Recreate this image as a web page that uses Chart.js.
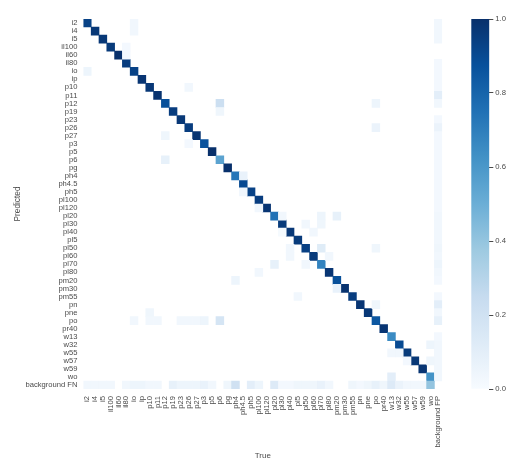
<!DOCTYPE html>
<html>
<head>
<meta charset="utf-8">
<script src="https://cdn.jsdelivr.net/npm/chart.js@4"></script>
<style>
  body { margin: 0; background: #fff; }
  #wrap { position: relative; width: 528px; height: 468px; overflow: hidden; }
  canvas { position: absolute; top: 0; }
</style>
</head>
<body>
<div id="wrap">
  <canvas id="matrix" width="528" height="468" style="left:0"></canvas>
  <canvas id="colorbar" width="68" height="468" style="left:460px"></canvas>
</div>
<script>
const classes = ["i2","i4","i5","il100","il60","il80","io","ip","p10","p11","p12","p19","p23","p26","p27","p3","p5","p6","pg","ph4","ph4.5","ph5","pl100","pl120","pl20","pl30","pl40","pl5","pl50","pl60","pl70","pl80","pm20","pm30","pm55","pn","pne","po","pr40","w13","w32","w55","w57","w59","wo"];
const trueLabels = [...classes, "background FP"];
const predictedLabels = [...classes, "background FN"];

// one value per class
const diagonal = [.93,.97,.97,.96,1,.95,.93,.98,.97,.99,.88,.95,.97,.95,.98,.87,1,.55,1,.73,.9,.93,.95,.98,.75,.96,.97,.96,.94,.96,.68,.98,.88,.99,.95,.98,.97,.85,.98,.65,.9,.96,.97,.98,.62];

// [row, column, value]
const offDiagonal = [
  [0,6,.03],[1,6,.03],[3,5,.02],[4,5,.02],[6,0,.05],[8,13,.03],[10,17,.22],[11,17,.04],
  [14,10,.04],[15,13,.02],[17,10,.08],[19,20,.07],[21,20,.03],[10,37,.05],[13,37,.06],
  [23,22,.03],[31,22,.03],[32,19,.05],[36,8,.04],
  [37,6,.03],[37,8,.03],[37,9,.03],[37,12,.03],[37,13,.03],[37,14,.03],[37,15,.05],[37,17,.17],
  [24,25,.03],[24,30,.05],[24,32,.08],[25,28,.03],[25,30,.04],[26,29,.03],[26,25,.01],
  [28,30,.12],[28,26,.03],[28,37,.04],[29,26,.03],[29,31,.03],[30,24,.08],[30,28,.03],
  [33,32,.07],[34,27,.03],[35,37,.04],[40,44,.05],[41,39,.03],[41,40,.03],[42,41,.02],[42,44,.04],[44,39,.1]
];

// background FP column, row by row
const falsePositive = [.03,.03,.03,0,0,.02,.02,.02,.02,.1,.03,0,.02,.06,.02,.02,.02,.02,.02,.02,.02,.02,.02,.02,.03,.03,.03,.03,.04,.03,.05,.03,.02,0,.02,.1,.03,.08,0,.02,.03,.03,.03,.03,.03];

// background FN row, column by column
const falseNegative = [.03,.03,.03,.03,0,.03,.05,.05,.03,.03,0,.08,.05,.05,.05,.07,.03,0,.04,.2,0,.1,.05,0,.13,.02,.02,.04,.04,.04,.07,.03,0,0,.04,.02,.04,.08,.04,.13,.06,.03,.03,.03,.4];

const blues = ["#f7fbff","#deebf7","#c6dbef","#9ecae1","#6baed6","#4292c6","#2171b5","#08519c","#08306b"];

function blueAt(v) {
  const p = Math.min(v, 1) * (blues.length - 1);
  const i = Math.min(Math.floor(p), blues.length - 2);
  const a = parseInt(blues[i].slice(1), 16), b = parseInt(blues[i + 1].slice(1), 16);
  const mix = (s) => Math.round(((a >> s) & 255) + (((b >> s) & 255) - ((a >> s) & 255)) * (p - i));
  return `rgb(${mix(16)},${mix(8)},${mix(0)})`;
}

const cells = [];
diagonal.forEach((v, i) => cells.push([i, i, v]));
offDiagonal.forEach((c) => cells.push(c));
falsePositive.forEach((v, r) => { if (v) cells.push([r, 45, v]); });
falseNegative.forEach((v, c) => { if (v) cells.push([45, c, v]); });

const textColor = "#4a4a4a";
const fontName = "'Liberation Sans', Arial, sans-serif";

new Chart(document.getElementById("matrix"), {
  type: "bar",
  data: {
    labels: trueLabels,
    datasets: [{
      data: cells.map(([r, c]) => ({ x: trueLabels[c], y: [r - 0.5, r + 0.5] })),
      backgroundColor: cells.map(([, , v]) => blueAt(v)),
      barPercentage: 1,
      categoryPercentage: 1,
      borderWidth: 0,
    }],
  },
  options: {
    responsive: false,
    animation: false,
    layout: { padding: { top: 19, right: 85.8, bottom: 0, left: 0 } },
    plugins: { legend: { display: false }, tooltip: { enabled: false } },
    scales: {
      x: {
        type: "category",
        offset: true,
        grid: { display: false, drawTicks: false },
        border: { display: false },
        ticks: {
          autoSkip: false, minRotation: 90, maxRotation: 90, padding: 7,
          color: textColor, font: { family: fontName, size: 7.6 },
        },
        title: {
          display: true, text: "True", color: textColor,
          font: { family: fontName, size: 8 }, padding: { top: 0, bottom: 7 },
        },
        afterFit: (s) => { s.height = 79; },
      },
      y: {
        type: "linear",
        reverse: true,
        min: -0.5,
        max: 45.5,
        grid: { display: false, drawTicks: false },
        border: { display: false },
        afterBuildTicks: (s) => { s.ticks = predictedLabels.map((_, i) => ({ value: i })); },
        ticks: {
          autoSkip: false, padding: 6,
          color: textColor, font: { family: fontName, size: 7.6 },
          callback: (v) => predictedLabels[v],
        },
        title: {
          display: true, text: "Predicted", color: textColor,
          font: { family: fontName, size: 8.3 }, padding: { top: 13, bottom: 0 },
        },
        afterFit: (s) => { s.width = 83.4; },
      },
    },
  },
});

// colorbar, one floating bar with the colormap as its fill
new Chart(document.getElementById("colorbar"), {
  type: "bar",
  data: {
    labels: [""],
    datasets: [{
      data: [[0, 1]],
      barPercentage: 1,
      categoryPercentage: 1,
      borderWidth: 0,
      backgroundColor: (ctx) => {
        const area = ctx.chart.chartArea;
        if (!area) return blues[0];
        const g = ctx.chart.ctx.createLinearGradient(0, area.bottom, 0, area.top);
        blues.forEach((c, i) => g.addColorStop(i / (blues.length - 1), c));
        return g;
      },
    }],
  },
  options: {
    responsive: false,
    animation: false,
    layout: { padding: { top: 19, right: 0, bottom: 79, left: 11.3 } },
    plugins: { legend: { display: false }, tooltip: { enabled: false } },
    scales: {
      x: { display: false },
      y: {
        position: "right",
        min: 0,
        max: 1,
        border: { display: false },
        grid: { drawOnChartArea: false, tickLength: 4, tickColor: textColor, tickWidth: 1 },
        ticks: {
          stepSize: 0.2, padding: 2,
          color: textColor, font: { family: fontName, size: 7.7 },
          callback: (v) => v.toFixed(1),
        },
        afterFit: (s) => { s.width = 38.7; },
      },
    },
  },
});
</script>
</body>
</html>
